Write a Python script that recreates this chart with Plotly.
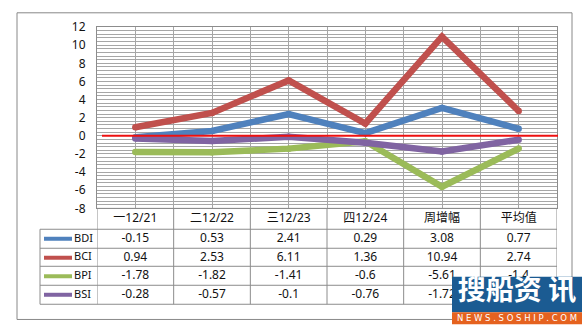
import plotly.graph_objects as go

W, H = 586, 336

categories = ["一12/21", "二12/22", "三12/23", "四12/24", "周增幅", "平均值"]
series_names = ["BDI", "BCI", "BPI", "BSI"]
bdi = [-0.15, 0.53, 2.41, 0.29, 3.08, 0.77]
bci = [0.94, 2.53, 6.11, 1.36, 10.94, 2.74]
bpi = [-1.78, -1.82, -1.41, -0.6, -5.61, -1.4]
bsi = [-0.28, -0.57, -0.1, -0.76, -1.72, -0.43]
colors = ["#4F81BD", "#C0504D", "#9BBB59", "#8064A2"]
y_ticks = [12, 10, 8, 6, 4, 2, 0, -2, -4, -6, -8]

values = [bdi, bci, bpi, bsi]


def px(x):
    return x / W


def py(y):
    return 1 - y / H


FONT = "Noto Sans, Noto Sans CJK SC, sans-serif"
GRID = "#a6a6a6"
TBL = "#8c8c8c"
TXT = "#111111"

# table geometry (pixel rows)
row_lines = [232, 252, 271, 291, 311]
row_centers = [242, 262, 281.5, 301]
header_center = 221

fig = go.Figure()
xs = list(range(len(categories)))
for name, vals, col in zip(series_names, values, colors):
    fig.add_trace(go.Scatter(
        x=xs, y=vals, mode="lines+markers", name=name,
        line=dict(color=col, width=6.5),
        marker=dict(color=col, size=6.5, line=dict(width=0)),
        showlegend=False, hoverinfo="skip"))

# table header text
fig.add_trace(go.Scatter(
    x=xs, y=[header_center] * len(xs), xaxis="x2", yaxis="y3",
    mode="text", text=categories, textposition="middle center",
    textfont=dict(family=FONT, size=12, color=TXT),
    showlegend=False, hoverinfo="skip", cliponaxis=False))
# table values
for r, (name, vals) in enumerate(zip(series_names, values)):
    fig.add_trace(go.Scatter(
        x=xs, y=[row_centers[r]] * len(xs), xaxis="x2", yaxis="y3",
        mode="text", text=[f"{v:g}" for v in vals], textposition="middle center",
        textfont=dict(family=FONT, size=12, color=TXT),
        showlegend=False, hoverinfo="skip", cliponaxis=False))
# legend labels
fig.add_trace(go.Scatter(
    x=[74] * 4, y=row_centers, xaxis="x3", yaxis="y3",
    mode="text", text=series_names, textposition="middle right",
    textfont=dict(family=FONT, size=11, color=TXT),
    showlegend=False, hoverinfo="skip", cliponaxis=False))

# watermark boxes (drawn in the top subplot so they cover the table)
wm_x = [452, 582, 582, 452, 452]
fig.add_trace(go.Scatter(
    x=wm_x, y=[282, 282, 319.5, 319.5, 282], xaxis="x3", yaxis="y3",
    mode="lines", fill="toself", fillcolor="#1b5b92",
    line=dict(width=0, color="#1b5b92"),
    showlegend=False, hoverinfo="skip", cliponaxis=False))
fig.add_trace(go.Scatter(
    x=wm_x, y=[319.5, 319.5, 332, 332, 319.5], xaxis="x3", yaxis="y3",
    mode="lines", fill="toself", fillcolor="#e5621f",
    line=dict(width=0, color="#e5621f"),
    showlegend=False, hoverinfo="skip", cliponaxis=False))
fig.add_trace(go.Scatter(
    x=[517, 517], y=[299.5, 326], xaxis="x3", yaxis="y3",
    mode="text", text=["<b>搜船资 讯</b>", "N E W S . S O S H I P . C O M"],
    textposition="middle center",
    textfont=dict(family=["Noto Sans CJK SC", "DejaVu Sans"], size=[28, 8.5],
                  color="white"),
    showlegend=False, hoverinfo="skip", cliponaxis=False))

shapes = []

# outer chart border
shapes.append(dict(type="rect", xref="paper", yref="paper",
                   x0=px(17), x1=px(572), y0=py(327), y1=py(4),
                   line=dict(color="#888888", width=1), layer="below"))

# red zero line
shapes.append(dict(type="line", xref="paper", yref="y",
                   x0=px(102), x1=px(558), y0=0, y1=0,
                   line=dict(color="#ee1111", width=2), layer="above"))

# horizontal table lines
shapes.append(dict(type="line", xref="paper", yref="paper",
                   x0=px(97), x1=px(557), y0=py(210), y1=py(210),
                   line=dict(color=TBL, width=1), layer="below"))
for yl in row_lines:
    shapes.append(dict(type="line", xref="paper", yref="paper",
                       x0=px(40), x1=px(557), y0=py(yl), y1=py(yl),
                       line=dict(color=TBL, width=1), layer="below"))
# vertical table lines
shapes.append(dict(type="line", xref="paper", yref="paper",
                   x0=px(40), x1=px(40), y0=py(232), y1=py(311),
                   line=dict(color=TBL, width=1), layer="below"))
for k in range(len(categories) + 1):
    xb = k - 0.5
    shapes.append(dict(type="line", xref="x", yref="paper",
                       x0=xb, x1=xb, y0=py(210), y1=py(311),
                       line=dict(color=TBL, width=1), layer="below"))
# legend keys
for r, col in enumerate(colors):
    yc = py(row_centers[r])
    shapes.append(dict(type="line", xref="paper", yref="paper",
                       x0=px(44), x1=px(72), y0=yc, y1=yc,
                       line=dict(color=col, width=4), layer="below"))

fig.update_layout(
    width=W, height=H,
    margin=dict(l=0, r=0, t=0, b=0),
    paper_bgcolor="white", plot_bgcolor="rgba(0,0,0,0)",
    shapes=shapes,
    xaxis=dict(domain=[px(97), px(557)], range=[-0.5, 5.5],
               tick0=-0.5, dtick=0.5, showticklabels=False,
               showgrid=True, gridcolor=GRID, gridwidth=1,
               zeroline=False, showline=True, linecolor=TBL, mirror=True,
               fixedrange=True),
    yaxis=dict(domain=[py(210), py(19)], range=[-8, 12],
               tickvals=y_ticks, ticktext=[str(t) for t in y_ticks],
               showgrid=True, gridcolor=GRID, gridwidth=1,
               minor=dict(dtick=0.4, tick0=-8, showgrid=True,
                          gridcolor=GRID, gridwidth=1),
               zeroline=False, showline=True, linecolor=TBL, mirror=True,
               ticks="", ticklabelstandoff=8,
               tickfont=dict(family=FONT, size=12, color=TXT),
               fixedrange=True),
    xaxis2=dict(domain=[px(97), px(557)], range=[-0.5, 5.5], visible=False,
                anchor="y3", fixedrange=True),
    xaxis3=dict(domain=[0, 1], range=[0, W], visible=False,
                anchor="y3", fixedrange=True),
    yaxis3=dict(domain=[0, 1], range=[H, 0], visible=False,
                anchor="x3", fixedrange=True),
)

fig.write_html("out.html")
